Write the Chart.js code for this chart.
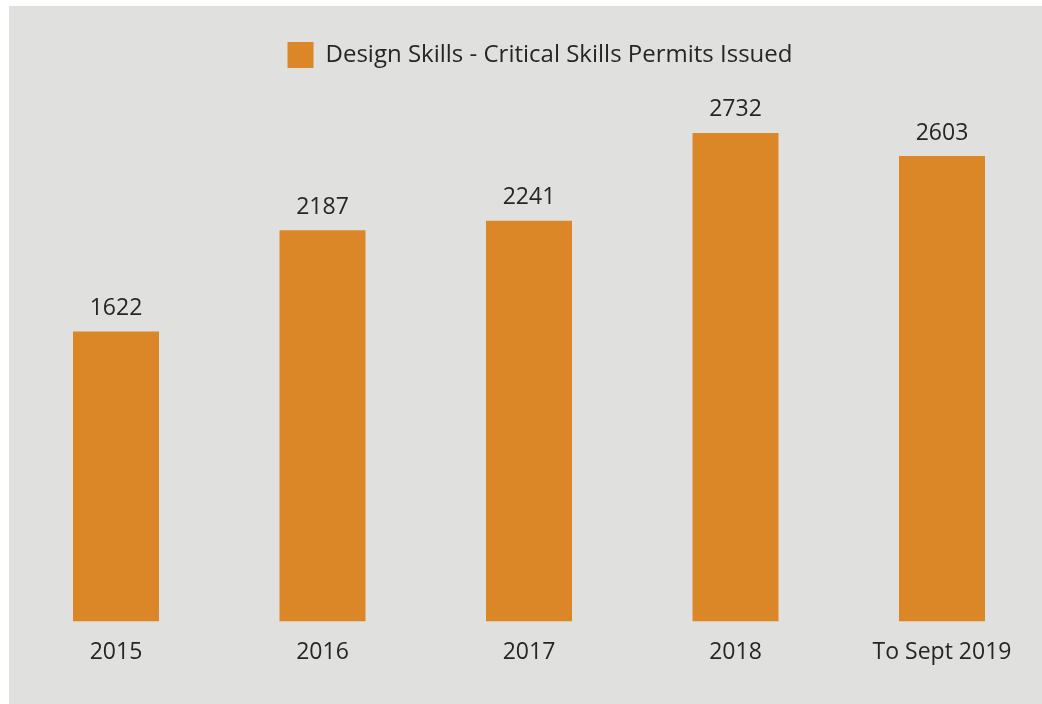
<!DOCTYPE html>
<html>
<head>
<meta charset="utf-8">
<script src="https://cdn.jsdelivr.net/npm/chart.js@4/dist/chart.umd.min.js"></script>
<style>
  html, body { margin: 0; padding: 0; background: #ffffff; overflow: hidden; width: 1042px; height: 704px; }
  #panel { position: absolute; left: 9px; top: 6px; width: 1040px; height: 698px; background: #e0e0df; }
  #panel canvas { display: block; }
</style>
</head>
<body>
<div id="panel"><canvas id="chart" width="1040" height="698"></canvas></div>
<script>
// Critical skills permits issued for design skills, per year
const categories = ['2015', '2016', '2017', '2018', 'To Sept 2019'];
const permitsIssued = [1622, 2187, 2241, 2732, 2603];
const seriesName = 'Design Skills - Critical Skills Permits Issued';

const FONT = '"Open Sans", "Noto Sans", sans-serif';
const TEXT = '#262626';
const ORANGE = '#db8727';

// Writes each bar's value centred above it
const valueLabels = {
  id: 'valueLabels',
  afterDatasetsDraw(chart) {
    const ctx = chart.ctx;
    const meta = chart.getDatasetMeta(0);
    ctx.save();
    ctx.font = '23px ' + FONT;
    ctx.fillStyle = TEXT;
    ctx.textAlign = 'center';
    ctx.textBaseline = 'middle';
    meta.data.forEach((bar, i) => {
      ctx.fillText(String(chart.data.datasets[0].data[i]), bar.x, bar.y - 23);
    });
    ctx.restore();
  }
};

// Nudges the legend block: a little higher above the bars and slightly right
const legendOffset = {
  id: 'legendOffset',
  afterLayout(chart) {
    const lg = chart.legend;
    if (!lg) return;
    lg.top -= 7; lg.bottom -= 7;
    lg.left += 11; lg.right += 11;
  }
};

new Chart(document.getElementById('chart'), {
  type: 'bar',
  data: {
    labels: categories,
    datasets: [{
      label: seriesName,
      data: permitsIssued,
      backgroundColor: ORANGE,
      borderWidth: 0,
      categoryPercentage: 1,
      barPercentage: 0.4165
    }]
  },
  options: {
    responsive: false,
    animation: false,
    layout: { padding: { left: 3.75, right: 3.75, top: 20, bottom: 21 } },
    plugins: {
      legend: {
        display: true,
        position: 'top',
        labels: {
          boxWidth: 26,
          boxHeight: 26,
          color: TEXT,
          font: { family: FONT, size: 24 },
          padding: 23
        }
      },
      tooltip: { enabled: false }
    },
    scales: {
      x: {
        grid: { display: false, drawTicks: false },
        border: { display: false },
        ticks: { color: TEXT, font: { family: FONT, size: 23 }, padding: 17, maxRotation: 0, autoSkip: false }
      },
      y: {
        display: false,
        min: 0,
        max: 3000
      }
    }
  },
  plugins: [valueLabels, legendOffset]
});
</script>
</body>
</html>
